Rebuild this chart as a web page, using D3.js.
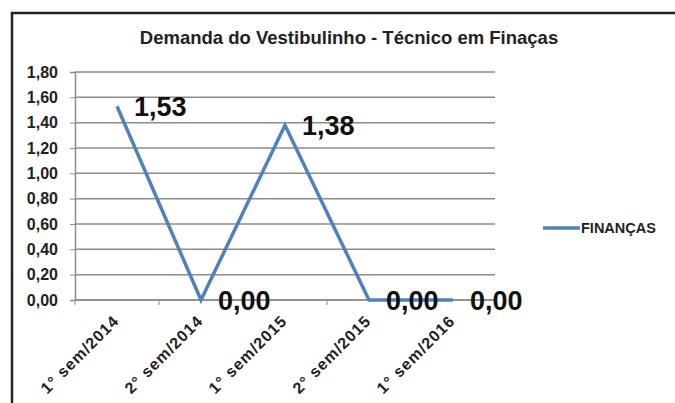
<!DOCTYPE html>
<html>
<head>
<meta charset="utf-8">
<script src="https://cdn.jsdelivr.net/npm/d3@7"></script>
<style>
  body { margin: 0; background: #fff; }
  text { font-family: "Liberation Sans", Arial, sans-serif; font-weight: bold; }
</style>
</head>
<body>
<div id="chart"></div>
<script>
// data
var categories = ["1° sem/2014", "2° sem/2014", "1° sem/2015", "2° sem/2015", "1° sem/2016"];
var financas = [1.53, 0.00, 1.38, 0.00, 0.00];
var yTicks = [0, 0.2, 0.4, 0.6, 0.8, 1.0, 1.2, 1.4, 1.6, 1.8];

var W = 675, H = 403;
var margin = { top: 72, left: 75 };
var width = 495 - margin.left,
    height = 300 - margin.top;

var svg = d3.select("#chart").append("svg")
    .attr("width", W)
    .attr("height", H);

// chart frame
svg.append("path")
    .attr("d", "M12," + H + "V13H" + W)
    .attr("fill", "none")
    .attr("stroke", "#222")
    .attr("stroke-width", 2.5);

svg.append("text")
    .attr("x", 349)
    .attr("y", 44)
    .attr("text-anchor", "middle")
    .style("font-size", "18.5px")
    .attr("fill", "#222")
    .text("Demanda do Vestibulinho - Técnico em Finaças");

var g = svg.append("g")
    .attr("transform", "translate(" + margin.left + "," + margin.top + ")");

var x = d3.scaleBand().domain(categories).range([0, width]);
var y = d3.scaleLinear().domain([0, 1.8]).range([height, 0]);
var fmt = function (d) { return d3.format(".2f")(d).replace(".", ","); };

// gridlines
g.selectAll(".grid")
    .data(yTicks)
    .enter().append("line")
    .attr("x1", 0).attr("x2", width)
    .attr("y1", function (d) { return y(d); })
    .attr("y2", function (d) { return y(d); })
    .attr("stroke", "#8c8c8c")
    .attr("stroke-width", 1.5);

// y axis
var yAxis = g.append("g")
    .call(d3.axisLeft(y).tickValues(yTicks).tickFormat(fmt).tickSize(5).tickPadding(12));
yAxis.attr("font-size", null).attr("font-family", null);
yAxis.select(".domain").attr("stroke", "#8c8c8c").attr("stroke-width", 1.5);
yAxis.selectAll(".tick line").attr("stroke", "#8c8c8c");
yAxis.selectAll("text").style("font-size", "16px").attr("fill", "#222");

// x axis (category ticks between categories)
var xAxisG = g.append("g").attr("transform", "translate(0," + height + ")");
xAxisG.append("line").attr("x1", 0).attr("x2", width)
    .attr("stroke", "#8c8c8c").attr("stroke-width", 1.5);
xAxisG.selectAll(".xt")
    .data(d3.range(categories.length + 1))
    .enter().append("line")
    .attr("x1", function (i) { return i * x.bandwidth(); })
    .attr("x2", function (i) { return i * x.bandwidth(); })
    .attr("y1", 0).attr("y2", 5)
    .attr("stroke", "#8c8c8c");
xAxisG.selectAll(".xl")
    .data(categories)
    .enter().append("text")
    .attr("transform", function (d) {
        return "translate(" + (x(d) + x.bandwidth() / 2 + 3) + ",22) rotate(-45)";
    })
    .attr("text-anchor", "end")
    .style("font-size", "16px")
    .style("letter-spacing", "1px")
    .attr("fill", "#222")
    .text(function (d) { return d; });

// line
var line = d3.line()
    .x(function (d, i) { return x(categories[i]) + x.bandwidth() / 2; })
    .y(function (d) { return y(d); });

g.append("path")
    .datum(financas)
    .attr("d", line)
    .attr("fill", "none")
    .attr("stroke", "#4f81bd")
    .attr("stroke-width", 3.5);

// data labels
g.selectAll(".lbl")
    .data(financas)
    .enter().append("text")
    .attr("x", function (d, i) { return x(categories[i]) + x.bandwidth() / 2 + 17; })
    .attr("y", function (d) { return y(d); })
    .attr("dy", "0.36em")
    .style("font-size", "27px")
    .attr("fill", "#111")
    .text(fmt);

// legend
var lg = svg.append("g").attr("transform", "translate(543,228)");
lg.append("line").attr("x1", 0).attr("x2", 37)
    .attr("stroke", "#4f81bd").attr("stroke-width", 3.5);
lg.append("text").attr("x", 38).attr("dy", "0.36em")
    .style("font-size", "14.5px").attr("fill", "#222")
    .text("FINANÇAS");
</script>
</body>
</html>
